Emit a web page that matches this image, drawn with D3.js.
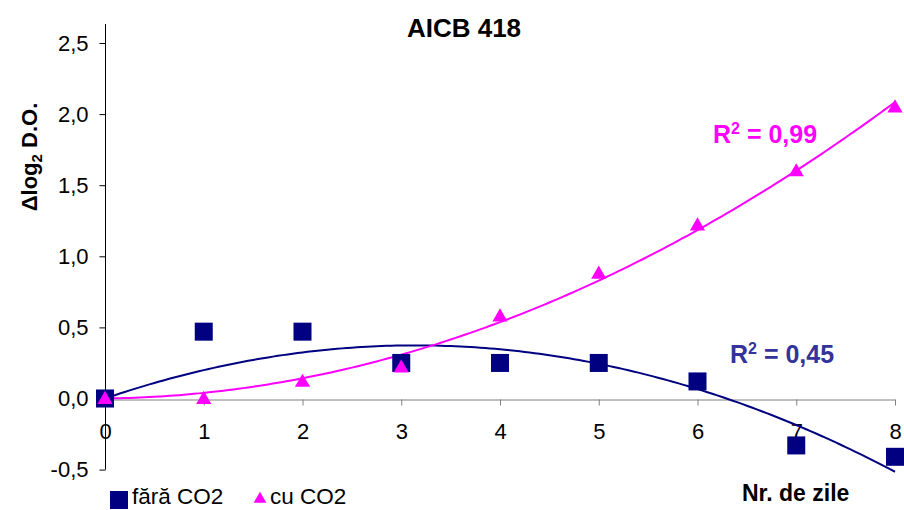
<!DOCTYPE html>
<html>
<head>
<meta charset="utf-8">
<script src="https://cdn.jsdelivr.net/npm/d3@7"></script>
<style>
  html, body { margin: 0; padding: 0; background: #fff; }
  svg { display: block; font-family: Arial, "Liberation Sans", sans-serif; }
</style>
</head>
<body>
<svg id="chart" width="904" height="510"></svg>
<script>
// Days of measurement
const days = [0, 1, 2, 3, 4, 5, 6, 7, 8];
// Δlog2 D.O. without CO2 (squares)
const faraCO2 = [0, 0.47, 0.47, 0.25, 0.25, 0.25, 0.12, -0.33, -0.41];
// Δlog2 D.O. with CO2 (triangles)
const cuCO2 = [0, 0, 0.12, 0.22, 0.58, 0.88, 1.22, 1.6, 2.05];
// Axis ticks
const yTicks = [-0.5, 0, 0.5, 1.0, 1.5, 2.0, 2.5];
const xTicks = [0, 1, 2, 3, 4, 5, 6, 7, 8];
// Coefficient of determination shown for each trendline
const r2Fara = "0,45";
const r2Cu = "0,99";
const seriesNames = ["fără CO2", "cu CO2"];

const NAVY = "#000080";
const MAGENTA = "#FF00FF";

const svg = d3.select("#chart");

const x = d3.scaleLinear().domain([0, 8]).range([105, 895]);
const y = d3.scaleLinear().domain([-0.5, 2.5]).range([469.6, 43]);

const fmt = d => d.toFixed(1).replace(".", ",");

// Least-squares quadratic through the origin: y = b·x + c·x²
function fitQuadOrigin(xs, ys) {
  let s2 = 0, s3 = 0, s4 = 0, sxy = 0, sx2y = 0;
  xs.forEach((xv, i) => {
    const yv = ys[i];
    s2 += xv * xv; s3 += xv ** 3; s4 += xv ** 4;
    sxy += xv * yv; sx2y += xv * xv * yv;
  });
  const det = s2 * s4 - s3 * s3;
  const b = (sxy * s4 - s3 * sx2y) / det;
  const c = (s2 * sx2y - s3 * sxy) / det;
  return t => b * t + c * t * t;
}

// Y axis (black)
const yAxis = svg.append("g")
  .attr("transform", "translate(105.5,0)")
  .call(d3.axisLeft(y).tickValues(yTicks).tickFormat(fmt).tickSize(6).tickSizeOuter(0).tickPadding(11));
yAxis.select(".domain").remove();
yAxis.append("line").attr("x1", 0).attr("x2", 0).attr("y1", 24).attr("y2", y(-0.5)).attr("stroke", "#000");
yAxis.selectAll(".tick line").attr("stroke", "#000");
yAxis.selectAll(".tick text").attr("font-size", 22).attr("fill", "#000")
  .attr("font-family", "Arial, 'Liberation Sans', sans-serif");

// X axis at y = 0 (grey)
const xAxis = svg.append("g")
  .attr("transform", `translate(0,${Math.round(y(0)) + 0.5})`)
  .call(d3.axisBottom(x).tickValues(xTicks).tickFormat(d3.format("d")).tickSize(6).tickSizeOuter(0).tickPadding(18));
xAxis.select(".domain").attr("stroke", "#808080");
xAxis.selectAll(".tick line").attr("stroke", "#808080");
xAxis.selectAll(".tick text").attr("font-size", 22).attr("fill", "#000")
  .attr("font-family", "Arial, 'Liberation Sans', sans-serif");

// Trendlines
const sample = d3.range(0, 8.0001, 0.05);
const fFara = fitQuadOrigin(days, faraCO2);
const fCu = fitQuadOrigin(days, cuCO2);
const line = f => d3.line().x(t => x(t)).y(t => y(f(t)))(sample);

svg.append("path").attr("d", line(fFara)).attr("fill", "none").attr("stroke", NAVY).attr("stroke-width", 2);
svg.append("path").attr("d", line(fCu)).attr("fill", "none").attr("stroke", MAGENTA).attr("stroke-width", 2);

// Markers
const sq = 18;
svg.append("g").selectAll("rect").data(days).join("rect")
  .attr("x", (d, i) => x(d) - sq / 2)
  .attr("y", (d, i) => y(faraCO2[i]) - sq / 2)
  .attr("width", sq).attr("height", sq)
  .attr("fill", NAVY);

const tri = d3.symbol().type(d3.symbolTriangle).size(100);
svg.append("g").selectAll("path").data(days).join("path")
  .attr("d", tri)
  .attr("transform", (d, i) => `translate(${x(d)},${y(cuCO2[i]) + 1})`)
  .attr("fill", MAGENTA);

// Title
svg.append("text").attr("x", 464).attr("y", 37).attr("text-anchor", "middle")
  .attr("font-size", 26).attr("font-weight", "bold").text("AICB 418");

// Y axis title
const yt = svg.append("text")
  .attr("transform", "translate(37,157) rotate(-90)")
  .attr("text-anchor", "middle").attr("font-size", 22).attr("font-weight", "bold");
yt.append("tspan").text("Δlog");
yt.append("tspan").attr("font-size", 15).attr("dy", 5).text("2");
yt.append("tspan").attr("dy", -5).text(" D.O.");

// X axis title
svg.append("text").attr("x", 742).attr("y", 501)
  .attr("font-size", 23).attr("font-weight", "bold").text("Nr. de zile");

// R² labels
function r2Label(xp, yp, color, value) {
  const t = svg.append("text").attr("x", xp).attr("y", yp)
    .attr("font-size", 25).attr("font-weight", "bold").attr("fill", color);
  t.append("tspan").text("R");
  t.append("tspan").attr("font-size", 16).attr("dy", -9).text("2");
  t.append("tspan").attr("dy", 9).text(" = " + value);
}
r2Label(713, 143, MAGENTA, r2Cu);
r2Label(730, 363, "#333399", r2Fara);

// Legend
const lg = svg.append("g");
lg.append("rect").attr("x", 110).attr("y", 491).attr("width", 18).attr("height", 18).attr("fill", NAVY);
lg.append("text").attr("x", 132).attr("y", 504).attr("font-size", 22.5).text(seriesNames[0]);
lg.append("path").attr("d", d3.symbol().type(d3.symbolTriangle).size(70))
  .attr("transform", "translate(260,499)").attr("fill", MAGENTA);
lg.append("text").attr("x", 270).attr("y", 504).attr("font-size", 22.5).text(seriesNames[1]);
</script>
</body>
</html>
